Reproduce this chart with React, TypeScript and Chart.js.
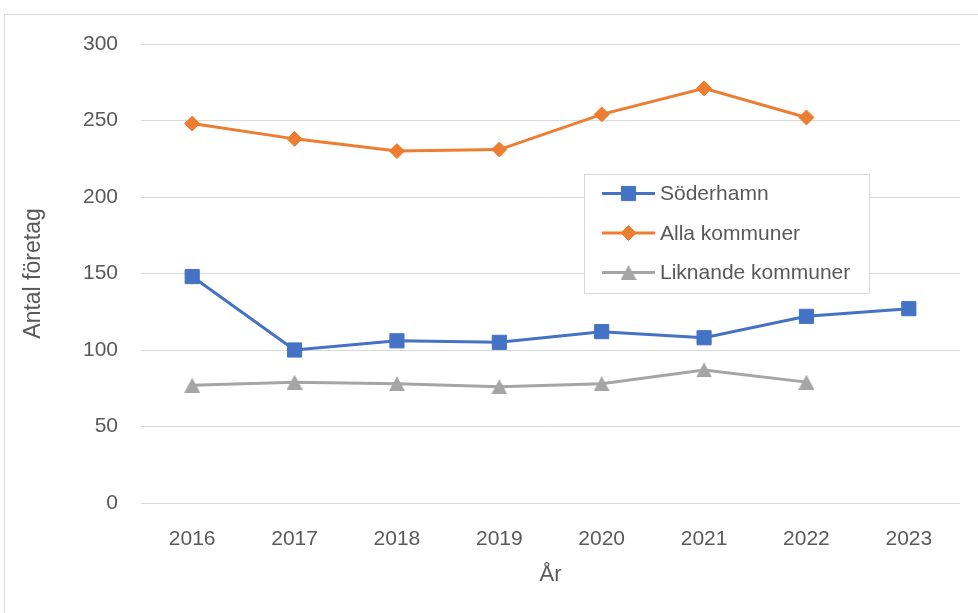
import React, { useEffect, useRef } from 'react';
import { Chart, registerables } from 'chart.js';

Chart.register(...registerables);

const years = ['2016', '2017', '2018', '2019', '2020', '2021', '2022', '2023'];
const soderhamn = [148, 100, 106, 105, 112, 108, 122, 127];
const allaKommuner = [248, 238, 230, 231, 254, 271, 252, null];
const liknandeKommuner = [77, 79, 78, 76, 78, 87, 79, null];
const seriesNames = ['Söderhamn', 'Alla kommuner', 'Liknande kommuner'];
const yTicks = [0, 50, 100, 150, 200, 250, 300];

const FONT = '"Liberation Sans", Arial, sans-serif';
const TEXT = '#595959';
const GRID = '#d9d9d9';

function makeTriangle(color: string): HTMLCanvasElement {
  const c = document.createElement('canvas');
  c.width = 16;
  c.height = 15;
  const g = c.getContext('2d');
  if (g) {
    g.fillStyle = color;
    g.beginPath();
    g.moveTo(8, 0);
    g.lineTo(16, 15);
    g.lineTo(0, 15);
    g.closePath();
    g.fill();
  }
  return c;
}

const legendPlugin = {
  id: 'boxLegend',
  afterDraw(chart: any) {
    const ctx = chart.ctx;
    const x0 = 584, y0 = 174, w = 285, h = 119;
    ctx.save();
    ctx.fillStyle = '#ffffff';
    ctx.fillRect(x0, y0, w, h);
    ctx.strokeStyle = GRID;
    ctx.lineWidth = 1;
    ctx.strokeRect(x0 + 0.5, y0 + 0.5, w, h);
    const rows = [193.5, 233, 272.5];
    chart.data.datasets.forEach((ds: any, i: number) => {
      const y = rows[i];
      const cx = 628.5;
      ctx.strokeStyle = ds.borderColor;
      ctx.lineWidth = 3;
      ctx.beginPath();
      ctx.moveTo(602, y);
      ctx.lineTo(655, y);
      ctx.stroke();
      ctx.fillStyle = ds.backgroundColor;
      ctx.strokeStyle = ds.borderColor;
      ctx.lineWidth = 1;
      const r = ds.pointRadius;
      if (ds.pointStyle === 'rect') {
        const s = Math.SQRT1_2 * r;
        ctx.beginPath();
        ctx.rect(cx - s, y - s, 2 * s, 2 * s);
        ctx.fill();
        ctx.stroke();
      } else if (ds.pointStyle === 'rectRot') {
        ctx.beginPath();
        ctx.moveTo(cx - r, y);
        ctx.lineTo(cx, y - r);
        ctx.lineTo(cx + r, y);
        ctx.lineTo(cx, y + r);
        ctx.closePath();
        ctx.fill();
        ctx.stroke();
      } else {
        const img = ds.pointStyle as HTMLCanvasElement;
        ctx.drawImage(img, cx - img.width / 2, y - img.height / 2);
      }
      ctx.fillStyle = TEXT;
      ctx.font = `21px ${FONT}`;
      ctx.textBaseline = 'middle';
      ctx.textAlign = 'left';
      ctx.fillText(ds.label, 660, y + 1);
    });
    ctx.restore();
  },
};

export default function App() {
  const ref = useRef<HTMLCanvasElement | null>(null);

  useEffect(() => {
    if (!ref.current) return;
    const tri = makeTriangle('#a5a5a5');
    const chart = new Chart(ref.current, {
      type: 'line',
      data: {
        labels: years,
        datasets: [
          {
            label: seriesNames[0],
            data: soderhamn,
            borderColor: '#4472c4',
            backgroundColor: '#4472c4',
            borderWidth: 3,
            pointStyle: 'rect',
            pointRadius: 10,
            pointBorderWidth: 1,
            pointHoverRadius: 10,
          },
          {
            label: seriesNames[1],
            data: allaKommuner,
            borderColor: '#ed7d31',
            backgroundColor: '#ed7d31',
            borderWidth: 3,
            pointStyle: 'rectRot',
            pointRadius: 7.5,
            pointBorderWidth: 1,
            pointHoverRadius: 7.5,
          },
          {
            label: seriesNames[2],
            data: liknandeKommuner,
            borderColor: '#a5a5a5',
            backgroundColor: '#a5a5a5',
            borderWidth: 3,
            pointStyle: tri,
            pointRadius: 9,
            pointBorderWidth: 1,
            pointHoverRadius: 9,
          },
        ],
      },
      options: {
        responsive: false,
        animation: false,
        layout: { padding: { left: 0, right: 18, top: 44, bottom: 0 } },
        plugins: {
          legend: { display: false },
          tooltip: { enabled: false },
        },
        scales: {
          x: {
            offset: true,
            grid: { display: false },
            border: { display: false },
            ticks: {
              color: TEXT,
              font: { family: FONT, size: 21 },
              padding: 16,
              maxRotation: 0,
            },
            title: {
              display: true,
              text: 'År',
              color: TEXT,
              font: { family: FONT, size: 22 },
              padding: { top: 0, bottom: 25 },
            },
            afterFit(scale: any) {
              scale.height = 110;
            },
          },
          y: {
            min: 0,
            max: 300,
            afterBuildTicks(scale: any) {
              scale.ticks = yTicks.map((v) => ({ value: v }));
            },
            grid: { color: GRID, lineWidth: 1, drawTicks: false },
            border: { display: false },
            ticks: {
              color: TEXT,
              font: { family: FONT, size: 21 },
              padding: 23,
            },
            title: {
              display: true,
              text: 'Antal företag',
              color: TEXT,
              font: { family: FONT, size: 23 },
              padding: { top: 20, bottom: 0 },
            },
            afterFit(scale: any) {
              scale.width = 141;
            },
          },
        },
      },
      plugins: [legendPlugin],
    });
    return () => chart.destroy();
  }, []);

  return (
    <div
      style={{
        position: 'fixed',
        left: 0,
        top: 0,
        width: 978,
        height: 613,
        background: '#ffffff',
        overflow: 'hidden',
      }}
    >
      <div
        style={{
          position: 'absolute',
          left: 4,
          top: 14,
          width: 1100,
          height: 800,
          border: `1px solid ${GRID}`,
          boxSizing: 'border-box',
        }}
      />
      <canvas
        ref={ref}
        width={978}
        height={613}
        style={{ position: 'absolute', left: 0, top: 0, width: 978, height: 613 }}
      />
    </div>
  );
}
